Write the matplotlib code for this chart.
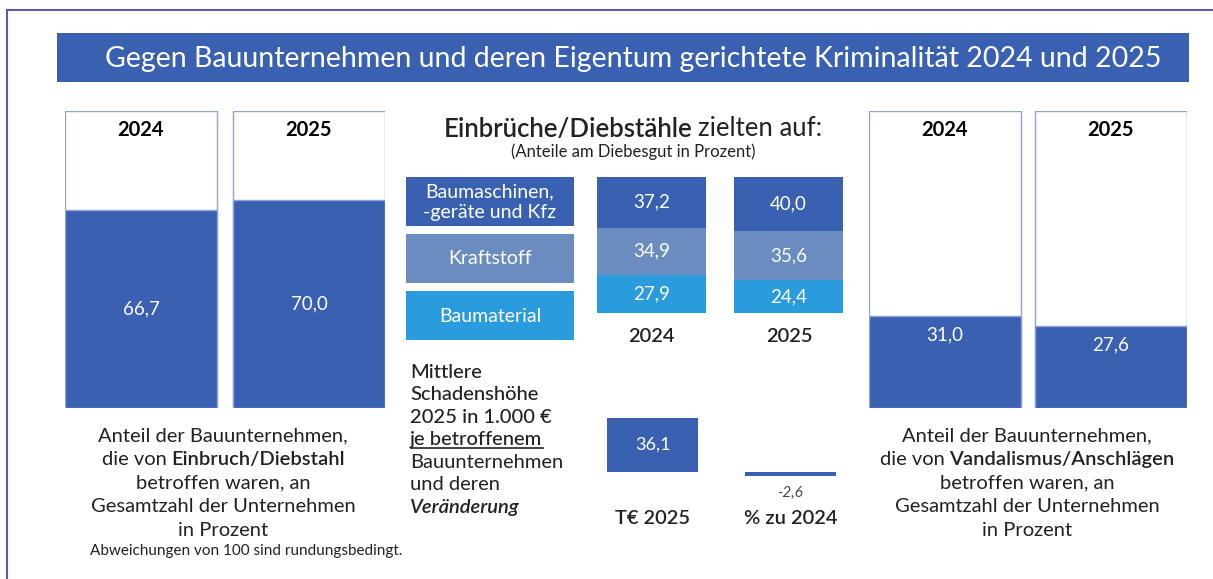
import matplotlib
matplotlib.use("Agg")
import matplotlib.pyplot as plt
from matplotlib.patches import Rectangle

plt.rcParams['font.family'] = ['Lato', 'DejaVu Sans']

# ---------------- data ----------------
years = ["2024", "2025"]
einbruch_share = [66.7, 70.0]          # % of companies hit by burglary/theft
vandal_share = [31.0, 27.6]            # % of companies hit by vandalism
loot_categories = ["Baumaschinen,\n-geräte und Kfz", "Kraftstoff", "Baumaterial"]
loot_2024 = [37.2, 34.9, 27.9]
loot_2025 = [40.0, 35.6, 24.4]
damage_labels = ["T€ 2025", "% zu 2024"]
damage_values = [36.1, -2.6]

title = "Gegen Bauunternehmen und deren Eigentum gerichtete Kriminalität 2024 und 2025"

# ---------------- styles ----------------
DARK = '#3A60B2'
MID = '#6A8CBF'
LIGHT = '#2A9BDD'
EDGE = '#8FA3D6'
TXT = '#222222'
W, H = 1213, 579

fig = plt.figure(figsize=(W / 100, H / 100), dpi=100)
bg = fig.add_axes([0, 0, 1, 1])
bg.set_xlim(0, W)
bg.set_ylim(H, 0)
bg.axis('off')


def fmt(v):
    return f"{v:.1f}".replace('.', ',')


def pax(x0, y0, x1, y1):
    ax = fig.add_axes([x0 / W, 1 - y1 / H, (x1 - x0) / W, (y1 - y0) / H])
    ax.axis('off')
    return ax


renderer = fig.canvas.get_renderer()


def rich_line(x, y, parts, size, ha='center', color=TXT):
    texts = []
    for s, kw in parts:
        t = bg.text(0, y, s, fontsize=size, color=color, va='center', ha='left', **kw)
        texts.append(t)
    widths = [t.get_window_extent(renderer).width for t in texts]
    gap = size * 0.30
    total = sum(widths) + gap * (len(texts) - 1)
    cur = x - total / 2 if ha == 'center' else x
    for t, w in zip(texts, widths):
        t.set_x(cur)
        cur += w + gap
    return texts, widths

# frame lines
bg.plot([7, W], [10, 10], color='#5B5EA6', lw=1.5)
bg.plot([7, 7], [10, H], color='#5B5EA6', lw=1.5)

# title banner
bg.add_patch(Rectangle((57, 33), 1132, 49, facecolor=DARK, edgecolor='none'))
bg.text(633, 59, title, color='white', fontsize=20.5, ha='center', va='center')

# ---------------- left panel: burglary share ----------------
axl = pax(65, 111, 385, 408)
xl = range(len(years))
axl.bar(xl, [100] * len(years), width=152 / 168, color='white', edgecolor=EDGE, lw=1)
axl.bar(xl, einbruch_share, width=152 / 168, color=DARK, edgecolor=EDGE, lw=1)
axl.set_xlim(-76 / 168, 1 + 76 / 168)
axl.set_ylim(0, 100)
for i, (y, v) in enumerate(zip(years, einbruch_share)):
    axl.text(i, 100 - 19 / 297 * 100, y, ha='center', va='center', fontsize=14.5,
             fontweight='bold', color='black')
    axl.text(i, v / 2, fmt(v), ha='center', va='center', fontsize=13.5, color='white')

# ---------------- right panel: vandalism share ----------------
axr = pax(869, 111, 1187, 408)
axr.bar(xl, [100] * len(years), width=152 / 166, color='white', edgecolor=EDGE, lw=1)
axr.bar(xl, vandal_share, width=152 / 166, color=DARK, edgecolor=EDGE, lw=1)
axr.set_xlim(-76 / 166, 1 + 76 / 166)
axr.set_ylim(0, 100)
for i, (y, v) in enumerate(zip(years, vandal_share)):
    axr.text(i, 100 - 19 / 297 * 100, y, ha='center', va='center', fontsize=14.5,
             fontweight='bold', color='black')
    axr.annotate(fmt(v), (i, v), xytext=(0, -13.5), textcoords='offset points',
                 ha='center', va='center', fontsize=13.5, color='white')

# ---------------- middle: stacked shares ----------------
rich_line(633, 129, [("Einbrüche/Diebstähle", dict(fontweight='semibold')),
                     ("zielten auf:", dict())], 18.5)
bg.text(633, 152, "(Anteile am Diebesgut in Prozent)", fontsize=12, color=TXT,
        ha='center', va='center')

seg_colors = [DARK, MID, LIGHT]
for k, (cat, c) in enumerate(zip(loot_categories, seg_colors)):
    y0 = 177 + k * 57
    bg.add_patch(Rectangle((406, y0), 168, 49, facecolor=c, edgecolor='none'))
    bg.text(490, y0 + 25, cat, color='white', fontsize=14, ha='center',
            va='center', linespacing=1.22)

axs = pax(597, 177, 843, 313)
axs.set_xlim(-0.3964, 1.3964)
axs.set_ylim(0, 100)
stack = [loot_2024, loot_2025]
order = [2, 1, 0]  # bottom to top: Baumaterial, Kraftstoff, Baumaschinen
for i, vals in enumerate(stack):
    bottom = 0
    for k in order:
        axs.bar(i, vals[k], bottom=bottom, width=0.7927, color=seg_colors[k], edgecolor='none')
        axs.text(i, bottom + vals[k] / 2, fmt(vals[k]), ha='center', va='center',
                 fontsize=13.5, color='white')
        bottom += vals[k]
for i, y in enumerate(years):
    bg.text(651.5 + i * 137.5, 337, y, ha='center', va='center', fontsize=14.5,
            fontweight='semibold', color=TXT)

# ---------------- middle bottom: damage ----------------
lines = ["Mittlere", "Schadenshöhe", "2025 in 1.000 €", "je betroffenem",
         "Bauunternehmen", "und deren", "Veränderung"]
for j, s in enumerate(lines):
    yy = 372 + j * 22.6
    kw = dict()
    if j < 4:
        kw = dict(fontweight='medium')
    if s == "Veränderung":
        kw = dict(fontweight='semibold', fontstyle='italic')
    t = bg.text(410, yy, s, fontsize=14.5, color=TXT, ha='left', va='center', **kw)
    if s == "je betroffenem":
        wdt = t.get_window_extent(renderer).width
        bg.plot([411, 411 + wdt], [yy + 8.5, yy + 8.5], color=TXT, lw=1.2)

axd = pax(607, 412.2, 836, 487)
axd.set_xlim(-0.3297, 1.3297)
axd.set_ylim(-10, 40)
axd.bar(range(len(damage_values)), damage_values, width=0.6594, color=DARK, edgecolor='none')
axd.text(0, damage_values[0] / 2, fmt(damage_values[0]), ha='center', va='center',
         fontsize=13, color='white')
axd.annotate(fmt(damage_values[1]), (1, damage_values[1]), xytext=(0, -12.5),
             textcoords='offset points', ha='center', va='center', fontsize=11,
             fontstyle='italic', color='#444444')
for i, s in enumerate(damage_labels):
    bg.text(652.5 + i * 138, 519, s, ha='center', va='center', fontsize=14.5,
            fontweight='semibold', color=TXT)

# ---------------- description texts ----------------
def desc(cx, bold_part):
    ys = [436, 459.5, 483, 506.5, 530]
    sz = 14.5
    bg.text(cx, ys[0], "Anteil der Bauunternehmen,", fontsize=sz, color=TXT, ha='center', va='center')
    rich_line(cx, ys[1], [("die von", dict()), (bold_part, dict(fontweight='semibold'))], sz)
    bg.text(cx, ys[2], "betroffen waren, an", fontsize=sz, color=TXT, ha='center', va='center')
    bg.text(cx, ys[3], "Gesamtzahl der Unternehmen", fontsize=sz, color=TXT, ha='center', va='center')
    bg.text(cx, ys[4], "in Prozent", fontsize=sz, color=TXT, ha='center', va='center')

desc(223, "Einbruch/Diebstahl")
desc(1027, "Vandalismus/Anschlägen")

bg.text(90, 551, "Abweichungen von 100 sind rundungsbedingt.", fontsize=11,
        color=TXT, ha='left', va='center')

fig.savefig("out.png", dpi=100)
